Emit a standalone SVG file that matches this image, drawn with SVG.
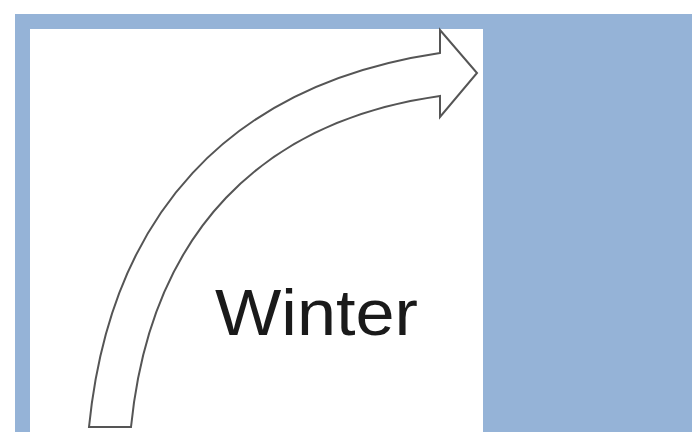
<svg xmlns="http://www.w3.org/2000/svg" width="692" height="432" viewBox="0 0 692 432">
  <style>
    .bg { fill: #95b3d7; }
    .panel { fill: #ffffff; }
    .arrow { fill: #ffffff; stroke: #555555; stroke-width: 2; stroke-linejoin: miter; }
    .label { font-family: "Liberation Sans", Arial, sans-serif; font-size: 65px; fill: #1a1a1a; }
  </style>
  <rect x="0" y="0" width="692" height="432" fill="#ffffff"/>
  <rect class="bg" x="15" y="14" width="677" height="418"/>
  <rect class="panel" x="30" y="29" width="453" height="403"/>
  <g id="arrow">
    <path class="arrow" d="M 89,427 C 110,217 227,84.5 440,53 L 440,30 L 477,73 L 440,117 L 440,96 C 262,121 150.5,232 131,427 Z"/>
  </g>
  <g id="winter">
    <text class="label" x="215" y="335" textLength="203" lengthAdjust="spacingAndGlyphs">Winter</text>
  </g>
</svg>
